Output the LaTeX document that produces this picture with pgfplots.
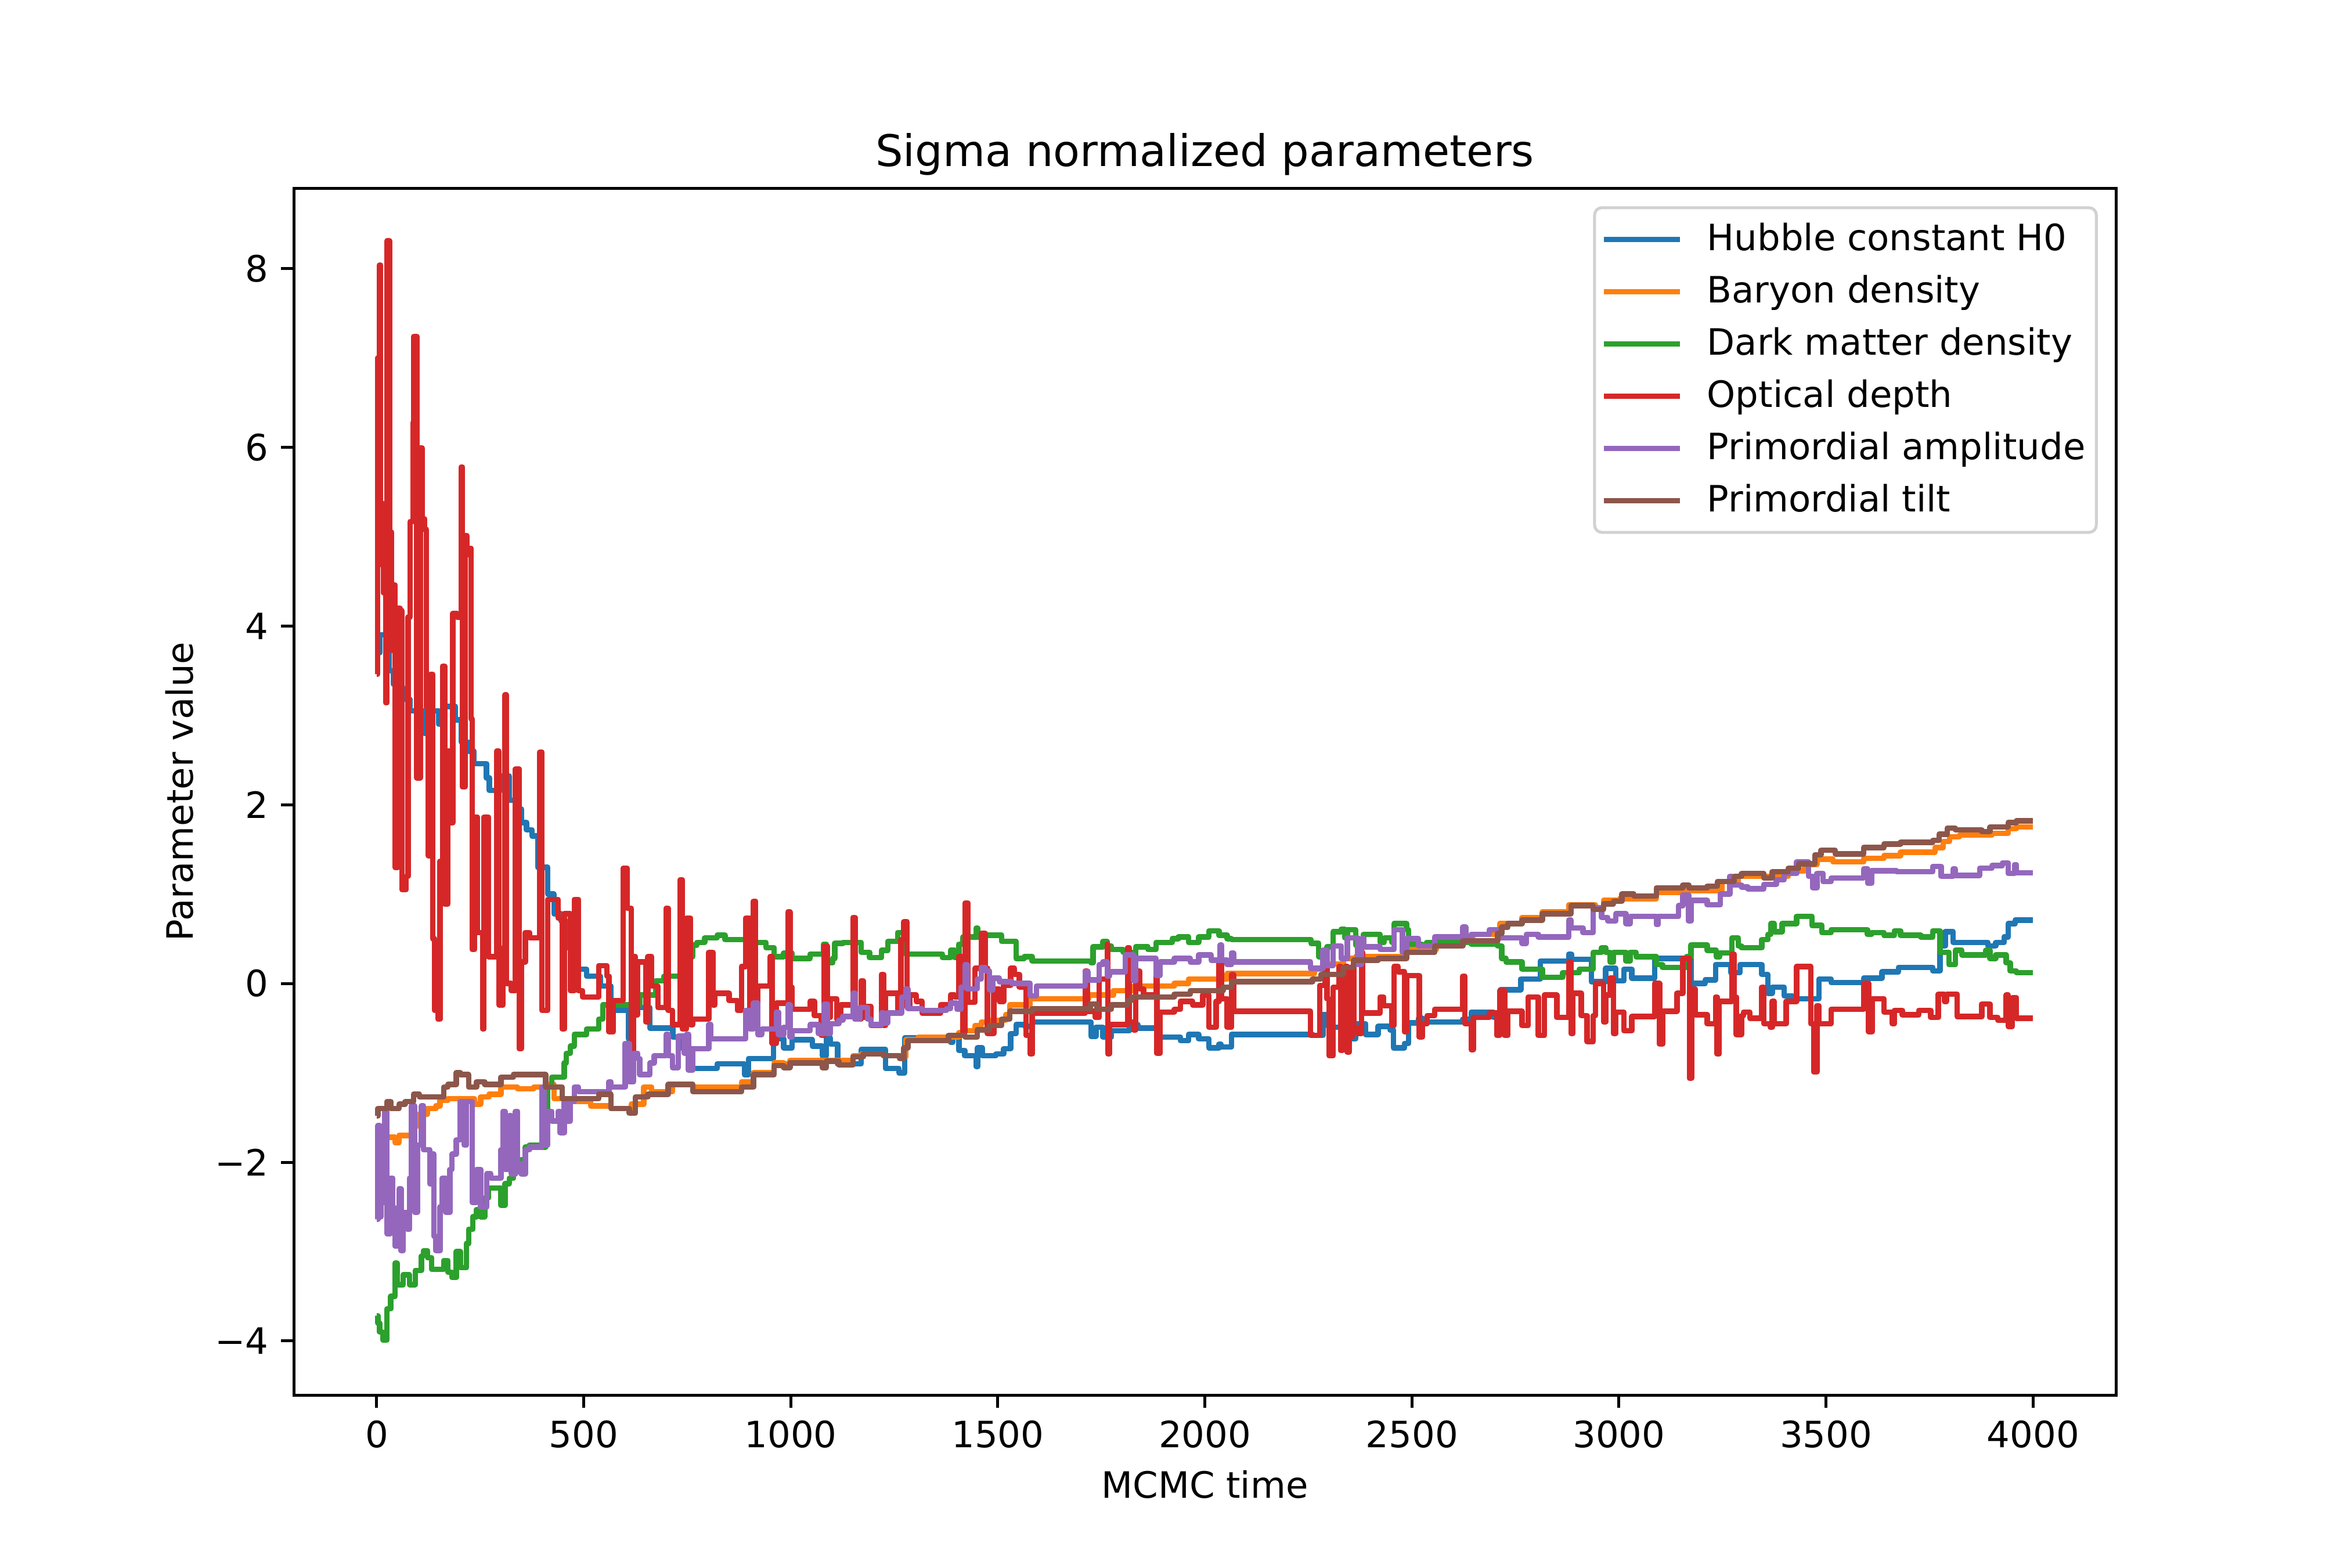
\documentclass[border=0pt]{standalone}
\usepackage{fontspec}
\setmainfont{DejaVu Sans}
\usepackage{pgfplots}
\pgfplotsset{compat=1.18}
\definecolor{c0}{HTML}{1F77B4}
\definecolor{c1}{HTML}{FF7F0E}
\definecolor{c2}{HTML}{2CA02C}
\definecolor{c3}{HTML}{D62728}
\definecolor{c4}{HTML}{9467BD}
\definecolor{c5}{HTML}{8C564B}
\begin{document}
\begin{tikzpicture}
\useasboundingbox (-81pt,-47.52pt) rectangle (567pt,384.48pt);
\begin{axis}[
  at={(0,0)}, anchor=south west,
  scale only axis, width=502.2pt, height=332.64pt,
  xmin=-200, xmax=4200, ymin=-4.605, ymax=8.9,
  xtick={0,500,...,4000},
  ytick={-4,-2,0,2,4,6,8},
  yticklabels={−4,−2,0,2,4,6,8},
  /pgf/number format/1000 sep={},
  /pgf/number format/assume math mode=true,
  tick align=outside, major tick length=3.5pt,
  tick style={black, line width=0.8pt},
  tick pos=left,
  axis line style={line width=0.8pt},
  ticklabel style={font=\fontsize{10}{12}\selectfont},
  title={Sigma normalized parameters},
  every axis title/.style={at={(axis description cs:0.5,1.018)}, anchor=base, font=\fontsize{12}{14}\selectfont, inner sep=0pt},
  xlabel={MCMC time},
  ylabel={Parameter value},
  every axis x label/.style={at={(axis description cs:0.5,-0.0854)}, anchor=base, font=\fontsize{10}{12}\selectfont, inner sep=0pt},
  every axis y label/.style={at={(axis description cs:-0.0552,0.5)}, rotate=90, anchor=base, font=\fontsize{10}{12}\selectfont, inner sep=0pt},
  every axis plot/.append style={line width=1.5pt, const plot, line join=round},
  legend cell align=left,
  legend image code/.code={\draw[#1] (0pt,0pt) -- (21pt,0pt);},
  legend style={at={(axis description cs:1,1)}, anchor=north east, xshift=-5pt, yshift=-5pt,
    draw=black!18, line width=0.8pt, rounded corners=2pt, fill=white, fill opacity=0.8, text opacity=1, draw opacity=1,
    font=\fontsize{10}{12}\selectfont, inner xsep=1.8pt, inner ysep=3pt, row sep=2.9pt,
    nodes={inner sep=1.2pt},
    /tikz/every odd column/.append style={column sep=5.5pt}},
]
% Hubble constant H0
\addplot[c0] coordinates {
(0,3.7) (8,3.9) (30,3.5) (40,3.35) (55,3.3) (66,3.18) (80,3.05) (115,2.8) (130,3.05) (150,2.9) (165,3.1) (190,2.95) (205,2.7) (222,2.6) (235,2.46) (265,2.3) (272,2.16) (300,2.32) (320,2.05) (335,1.95) (350,1.8) (362,1.72) (375,1.65) (389,1.3) (413,1.0) (428,0.78) (445,0.7) (458,0.4) (472,0.16) (507,0.08) (540,-0.03) (566,-0.3) (608,-0.62) (614,-0.27) (660,-0.5) (715,-0.6) (740,-0.73) (763,-0.95) (822,-0.9) (888,-1.02) (898,-0.84) (958,-0.62) (983,-0.72) (1003,-0.63) (1052,-0.70) (1076,-0.81) (1086,-0.61) (1096,-0.68) (1113,-0.90) (1170,-0.74) (1229,-0.95) (1261,-1.0) (1275,-0.61) (1386,-0.66) (1391,-0.6) (1406,-0.75) (1420,-0.81) (1448,-0.93) (1451,-0.72) (1462,-0.81) (1495,-0.79) (1514,-0.73) (1531,-0.56) (1544,-0.46) (1566,-0.48) (1583,-0.43) (1725,-0.59) (1737,-0.49) (1754,-0.6) (1774,-0.53) (1818,-0.46) (1838,-0.5) (1887,-0.6) (1941,-0.64) (1961,-0.57) (1985,-0.62) (2010,-0.72) (2034,-0.68) (2039,-0.71) (2064,-0.57) (2260,-0.58) (2285,-0.35) (2295,-0.47) (2300,-0.49) (2329,-0.62) (2364,-0.45) (2388,-0.57) (2418,-0.48) (2447,-0.52) (2455,-0.72) (2482,-0.67) (2492,-0.44) (2516,-0.39) (2525,-0.43) (2623,-0.40) (2643,-0.32) (2697,-0.38) (2714,-0.07) (2763,0.05) (2810,0.25) (2879,0.33) (2885,0.27) (2933,0.02) (2968,0.17) (2992,0.03) (3012,0.16) (3031,0.06) (3086,0.28) (3174,0.0) (3208,0.04) (3233,0.21) (3270,0.12) (3292,0.21) (3345,0.10) (3360,-0.11) (3370,-0.04) (3399,-0.14) (3419,-0.17) (3483,0.05) (3512,0.01) (3591,0.06) (3635,0.13) (3675,0.18) (3758,0.14) (3775,0.42) (3788,0.58) (3807,0.46) (3891,0.42) (3910,0.46) (3930,0.52) (3940,0.67) (3957,0.71) (4000,0.71)
};
\addlegendentry{Hubble constant H0}
% Baryon density
\addplot[c1] coordinates {
(0,-1.83) (5,-1.70) (15,-1.72) (44,-1.78) (54,-1.70) (84,-1.59) (103,-1.46) (123,-1.40) (143,-1.37) (153,-1.31) (172,-1.29) (236,-1.35) (251,-1.27) (271,-1.24) (300,-1.16) (340,-1.18) (379,-1.16) (408,-1.13) (428,-1.29) (468,-1.32) (517,-1.37) (566,-1.40) (615,-1.35) (645,-1.16) (664,-1.21) (714,-1.13) (763,-1.16) (881,-1.1) (910,-1.0) (960,-0.89) (983,-0.90) (998,-0.86) (1150,-0.81) (1170,-0.79) (1224,-0.81) (1263,-0.82) (1278,-0.63) (1308,-0.60) (1406,-0.55) (1421,-0.53) (1445,-0.47) (1460,-0.43) (1480,-0.41) (1519,-0.35) (1529,-0.24) (1578,-0.17) (1719,-0.13) (1779,-0.08) (1828,-0.03) (1926,0.0) (1961,0.05) (2054,0.11) (2264,0.16) (2285,0.22) (2334,0.28) (2364,0.30) (2482,0.38) (2559,0.45) (2623,0.53) (2648,0.55) (2712,0.67) (2766,0.74) (2815,0.80) (2879,0.88) (2943,0.84) (2963,0.93) (3002,0.95) (3090,1.02) (3159,1.04) (3248,1.14) (3288,1.20) (3409,1.26) (3448,1.33) (3478,1.39) (3517,1.36) (3591,1.40) (3640,1.43) (3680,1.47) (3763,1.52) (3783,1.59) (3798,1.64) (3822,1.66) (3901,1.68) (3940,1.73) (3960,1.75) (4000,1.75)
};
\addlegendentry{Baryon density}
% Dark matter density
\addplot[c2] coordinates {
(0,-3.72) (3,-3.8) (7,-3.9) (15,-3.99) (25,-3.64) (34,-3.5) (44,-3.13) (49,-3.37) (64,-3.26) (79,-3.37) (93,-3.21) (108,-3.05) (113,-2.99) (123,-3.07) (133,-3.2) (162,-3.1) (172,-3.23) (182,-3.29) (192,-3.0) (202,-3.18) (217,-2.91) (222,-2.75) (232,-2.61) (241,-2.53) (251,-2.61) (261,-2.4) (270,-2.29) (300,-2.48) (310,-2.24) (320,-2.18) (330,-2.08) (349,-1.97) (359,-1.83) (369,-1.81) (398,-1.83) (408,-1.64) (413,-1.16) (423,-1.05) (453,-0.89) (458,-0.78) (468,-0.70) (477,-0.57) (507,-0.51) (536,-0.40) (546,-0.24) (635,-0.13) (674,0.03) (694,0.08) (743,0.30) (763,0.43) (773,0.46) (792,0.51) (822,0.54) (841,0.49) (891,0.46) (940,0.40) (960,0.30) (983,0.34) (1003,0.28) (1047,0.33) (1079,0.44) (1086,0.23) (1101,0.28) (1106,0.45) (1126,0.46) (1170,0.35) (1190,0.29) (1219,0.37) (1234,0.47) (1258,0.57) (1278,0.33) (1366,0.29) (1386,0.37) (1396,0.29) (1406,0.44) (1416,0.52) (1448,0.62) (1451,0.52) (1465,0.54) (1509,0.47) (1544,0.28) (1564,0.3) (1583,0.25) (1725,0.23) (1730,0.41) (1754,0.47) (1764,0.42) (1774,0.38) (1803,0.35) (1828,0.24) (1833,0.41) (1862,0.38) (1882,0.46) (1921,0.50) (1936,0.52) (1961,0.46) (1985,0.52) (2010,0.59) (2034,0.54) (2054,0.5) (2064,0.49) (2256,0.45) (2275,0.30) (2295,0.41) (2310,0.58) (2329,0.61) (2338,0.51) (2344,0.6) (2364,0.43) (2383,0.55) (2423,0.46) (2433,0.51) (2452,0.46) (2457,0.67) (2487,0.6) (2492,0.44) (2525,0.42) (2535,0.46) (2643,0.44) (2707,0.42) (2717,0.28) (2727,0.24) (2766,0.16) (2815,0.07) (2864,0.12) (2904,0.16) (2938,0.35) (2958,0.40) (2968,0.35) (2978,0.24) (2987,0.35) (3017,0.25) (3027,0.35) (3041,0.30) (3090,0.21) (3105,0.18) (3163,0.3) (3174,0.43) (3213,0.37) (3235,0.3) (3243,0.34) (3273,0.51) (3288,0.42) (3296,0.40) (3345,0.49) (3360,0.55) (3367,0.67) (3375,0.58) (3394,0.67) (3429,0.75) (3466,0.65) (3490,0.57) (3512,0.60) (3600,0.55) (3610,0.57) (3640,0.54) (3665,0.59) (3680,0.54) (3729,0.52) (3758,0.59) (3775,0.35) (3797,0.21) (3812,0.37) (3828,0.32) (3886,0.37) (3896,0.28) (3910,0.32) (3935,0.23) (3945,0.14) (3960,0.12) (4000,0.12)
};
\addlegendentry{Dark matter density}
% Optical depth
\addplot[c3] coordinates {
(0,3.46) (2,7.0) (7,8.04) (9,4.69) (14,5.37) (17,4.37) (22,3.14) (25,8.31) (31,5.05) (36,3.73) (41,4.46) (44,1.3) (51,4.2) (56,4.17) (61,1.05) (71,1.2) (76,4.1) (81,5.17) (88,6.28) (90,7.24) (97,2.3) (105,5.99) (110,5.2) (115,5.08) (120,3.09) (125,1.43) (130,3.46) (135,0.5) (140,-0.3) (148,-0.4) (153,1.37) (159,3.55) (164,0.89) (172,2.6) (178,1.8) (184,4.14) (194,4.1) (204,5.78) (207,2.2) (213,5.01) (218,4.8) (223,4.87) (228,2.96) (231,0.38) (236,1.86) (243,0.57) (256,-0.51) (259,1.86) (270,0.3) (290,2.6) (295,-0.24) (305,0.4) (310,3.23) (313,0.0) (325,-0.08) (335,2.4) (344,-0.73) (349,0.24) (359,0.57) (369,0.51) (394,2.59) (399,-0.3) (413,0.94) (438,0.73) (448,-0.51) (453,0.78) (468,-0.08) (477,0.94) (487,-0.08) (497,-0.15) (536,0.2) (556,0.08) (561,-0.54) (571,-0.19) (595,1.29) (605,0.84) (615,-0.84) (620,0.30) (625,-0.35) (630,0.24) (650,-0.43) (655,0.30) (664,-0.03) (679,-0.27) (699,0.84) (704,-0.3) (714,-0.46) (733,1.16) (738,-0.51) (748,0.73) (758,-0.46) (763,-0.4) (802,0.35) (812,-0.24) (817,-0.11) (851,-0.19) (871,-0.3) (881,0.19) (891,0.73) (901,-0.3) (910,0.92) (915,-0.3) (920,-0.03) (950,0.30) (955,-0.67) (965,-0.22) (993,0.80) (998,-0.04) (1003,-0.29) (1047,-0.2) (1057,-0.36) (1074,-0.58) (1081,0.42) (1088,-0.38) (1096,-0.17) (1111,-0.40) (1121,-0.24) (1150,0.74) (1155,-0.4) (1170,0.03) (1175,-0.38) (1180,-0.26) (1194,-0.47) (1219,0.10) (1224,-0.47) (1229,-0.11) (1258,-0.29) (1266,0.49) (1273,0.69) (1281,-0.27) (1288,-0.13) (1303,-0.2) (1317,-0.33) (1362,-0.24) (1386,-0.13) (1396,-0.15) (1406,0.30) (1416,-0.54) (1421,0.9) (1428,-0.21) (1445,0.17) (1460,0.56) (1470,0.17) (1475,-0.56) (1490,-0.06) (1504,-0.2) (1514,-0.02) (1531,0.17) (1540,0.1) (1552,-0.04) (1568,-0.58) (1578,-0.79) (1583,-0.33) (1711,0.14) (1716,-0.31) (1735,-0.38) (1745,0.05) (1764,0.44) (1766,-0.79) (1769,-0.46) (1813,0.40) (1818,-0.43) (1828,-0.52) (1833,0.14) (1842,-0.06) (1852,-0.13) (1882,0.1) (1884,-0.78) (1892,-0.32) (1926,-0.29) (1941,-0.2) (1970,-0.24) (1995,-0.13) (2010,-0.49) (2027,-0.2) (2034,0.23) (2040,-0.17) (2054,-0.49) (2064,0.10) (2069,-0.31) (2255,-0.58) (2277,-0.02) (2290,0.24) (2295,-0.17) (2300,-0.81) (2310,-0.04) (2324,0.19) (2328,-0.75) (2332,0.1) (2336,-0.7) (2340,0.19) (2344,-0.77) (2348,0.0) (2352,-0.6) (2356,0.19) (2360,-0.5) (2369,-0.56) (2378,0.35) (2381,-0.33) (2423,-0.15) (2432,-0.25) (2452,-0.47) (2457,0.19) (2467,0.13) (2482,-0.54) (2487,0.09) (2518,-0.6) (2525,-0.45) (2537,-0.36) (2555,-0.29) (2623,0.08) (2628,-0.45) (2643,-0.74) (2648,-0.38) (2687,-0.33) (2705,-0.58) (2712,-0.08) (2724,-0.58) (2732,-0.31) (2766,-0.47) (2781,-0.15) (2805,-0.58) (2820,-0.13) (2850,-0.38) (2879,0.24) (2884,-0.56) (2889,-0.11) (2909,-0.36) (2923,-0.65) (2938,-0.36) (2943,0.0) (2963,-0.43) (2968,-0.13) (2978,0.06) (2987,-0.56) (2992,-0.32) (3012,-0.53) (3031,-0.37) (3086,0.0) (3098,-0.68) (3105,-0.31) (3140,-0.11) (3154,0.28) (3170,-1.06) (3175,-0.06) (3184,-0.35) (3213,-0.45) (3233,-0.15) (3237,-0.79) (3242,-0.2) (3273,0.33) (3278,-0.15) (3283,-0.57) (3296,-0.36) (3301,-0.32) (3316,-0.39) (3345,-0.04) (3350,-0.45) (3365,-0.49) (3370,-0.2) (3375,-0.45) (3404,-0.2) (3429,0.19) (3463,-0.45) (3470,-0.99) (3478,-0.25) (3483,-0.45) (3512,-0.29) (3591,0.0) (3603,-0.54) (3611,-0.17) (3640,-0.32) (3660,-0.45) (3665,-0.3) (3684,-0.35) (3724,-0.3) (3753,-0.38) (3771,-0.12) (3786,-0.2) (3791,-0.12) (3817,-0.37) (3876,-0.23) (3896,-0.38) (3915,-0.41) (3935,-0.13) (3940,-0.48) (3950,-0.16) (3960,-0.39) (4000,-0.39)
};
\addlegendentry{Optical depth}
% Primordial amplitude
\addplot[c4] coordinates {
(0,-2.64) (3,-1.59) (7,-2.61) (10,-2.18) (15,-2.45) (20,-1.43) (25,-2.8) (33,-2.18) (39,-2.51) (44,-2.94) (54,-2.3) (59,-2.99) (64,-2.56) (74,-2.75) (79,-2.18) (84,-1.37) (92,-2.56) (98,-1.81) (108,-1.37) (113,-1.86) (128,-2.24) (133,-1.91) (138,-2.83) (143,-2.99) (153,-2.5) (158,-2.18) (167,-2.56) (177,-2.08) (182,-1.91) (192,-1.75) (202,-1.32) (212,-1.81) (217,-1.32) (231,-2.45) (241,-2.08) (251,-2.5) (266,-2.13) (276,-2.18) (300,-1.86) (305,-1.43) (310,-2.08) (320,-1.48) (325,-2.13) (335,-1.43) (340,-2.02) (349,-2.13) (359,-1.86) (369,-1.83) (399,-1.16) (404,-1.81) (413,-1.43) (423,-1.54) (438,-1.43) (443,-1.67) (453,-1.32) (458,-1.54) (468,-1.32) (477,-1.16) (487,-1.21) (561,-1.10) (566,-1.16) (600,-0.67) (610,-1.1) (620,-0.78) (630,-0.84) (635,-1.02) (660,-0.89) (670,-0.81) (699,-0.57) (704,-0.81) (714,-0.94) (728,-0.59) (743,-0.78) (748,-0.57) (753,-0.97) (763,-0.73) (802,-0.46) (807,-0.62) (891,-0.30) (901,-0.51) (910,-0.22) (920,-0.57) (930,-0.51) (965,-0.32) (970,-0.57) (983,-0.49) (993,-0.24) (998,-0.6) (1003,-0.53) (1047,-0.46) (1067,-0.56) (1081,-0.23) (1088,-0.56) (1096,-0.45) (1116,-0.41) (1126,-0.37) (1150,-0.11) (1155,-0.4) (1167,-0.27) (1185,-0.4) (1194,-0.46) (1219,-0.33) (1224,-0.44) (1234,-0.33) (1268,-0.15) (1278,-0.06) (1283,-0.28) (1317,-0.30) (1376,-0.28) (1386,-0.22) (1401,-0.29) (1411,-0.04) (1421,0.21) (1426,-0.06) (1450,0.05) (1460,0.18) (1470,0.14) (1480,-0.07) (1488,0.06) (1504,0.02) (1534,0.0) (1578,-0.14) (1593,-0.03) (1711,0.13) (1718,0.04) (1745,0.21) (1754,0.24) (1764,0.08) (1769,0.13) (1808,0.32) (1828,0.03) (1833,0.28) (1882,0.09) (1892,0.24) (1926,0.28) (1965,0.24) (1985,0.32) (2015,0.26) (2037,0.43) (2040,0.26) (2054,0.21) (2064,0.34) (2069,0.24) (2255,0.17) (2285,0.37) (2295,0.2) (2310,0.42) (2329,0.28) (2344,0.51) (2369,0.21) (2378,0.50) (2384,0.41) (2423,0.38) (2457,0.60) (2477,0.35) (2487,0.50) (2516,0.42) (2555,0.52) (2623,0.63) (2630,0.52) (2643,0.55) (2687,0.60) (2712,0.51) (2766,0.45) (2776,0.55) (2805,0.52) (2879,0.71) (2884,0.62) (2913,0.57) (2938,0.85) (2958,0.74) (2973,0.70) (2992,0.78) (3017,0.67) (3027,0.75) (3090,0.66) (3095,0.75) (3144,0.87) (3154,0.99) (3168,0.7) (3174,0.93) (3213,0.88) (3245,1.00) (3268,1.20) (3273,1.1) (3296,1.08) (3311,1.06) (3350,1.11) (3380,1.16) (3399,1.23) (3429,1.36) (3458,1.2) (3468,1.07) (3478,1.23) (3493,1.14) (3512,1.18) (3591,1.28) (3601,1.12) (3610,1.26) (3670,1.25) (3758,1.31) (3778,1.20) (3807,1.28) (3812,1.21) (3871,1.29) (3901,1.32) (3926,1.35) (3940,1.23) (3955,1.33) (3960,1.24) (4000,1.24)
};
\addlegendentry{Primordial amplitude}
% Primordial tilt
\addplot[c5] coordinates {
(0,-1.48) (3,-1.40) (25,-1.32) (34,-1.40) (54,-1.35) (69,-1.32) (89,-1.24) (103,-1.27) (162,-1.16) (172,-1.13) (192,-1.0) (202,-1.02) (222,-1.16) (241,-1.10) (261,-1.13) (300,-1.05) (330,-1.02) (408,-1.16) (448,-1.29) (536,-1.24) (566,-1.40) (610,-1.45) (625,-1.27) (655,-1.24) (704,-1.13) (763,-1.21) (881,-1.16) (910,-1.02) (960,-0.92) (983,-0.94) (998,-0.89) (1076,-0.94) (1086,-0.87) (1116,-0.91) (1150,-0.82) (1175,-0.79) (1224,-0.81) (1263,-0.84) (1273,-0.72) (1283,-0.64) (1381,-0.58) (1421,-0.60) (1450,-0.52) (1480,-0.47) (1509,-0.40) (1529,-0.31) (1583,-0.28) (1724,-0.23) (1740,-0.29) (1774,-0.24) (1813,-0.19) (1823,-0.15) (1926,-0.12) (1965,-0.08) (2044,-0.04) (2064,0.02) (2260,0.05) (2280,0.10) (2334,0.18) (2359,0.26) (2418,0.28) (2487,0.35) (2555,0.42) (2623,0.48) (2707,0.56) (2717,0.63) (2732,0.67) (2766,0.71) (2815,0.78) (2884,0.87) (2938,0.83) (2963,0.89) (2987,0.92) (3007,1.00) (3036,0.98) (3090,1.07) (3154,1.10) (3169,1.07) (3213,1.09) (3238,1.14) (3278,1.20) (3296,1.23) (3350,1.18) (3370,1.25) (3409,1.29) (3434,1.34) (3473,1.44) (3488,1.49) (3522,1.45) (3591,1.52) (3640,1.56) (3680,1.58) (3758,1.60) (3773,1.67) (3793,1.74) (3812,1.72) (3876,1.70) (3896,1.75) (3940,1.80) (3960,1.82) (4000,1.82)
};
\addlegendentry{Primordial tilt}
\end{axis}
\end{tikzpicture}
\end{document}
